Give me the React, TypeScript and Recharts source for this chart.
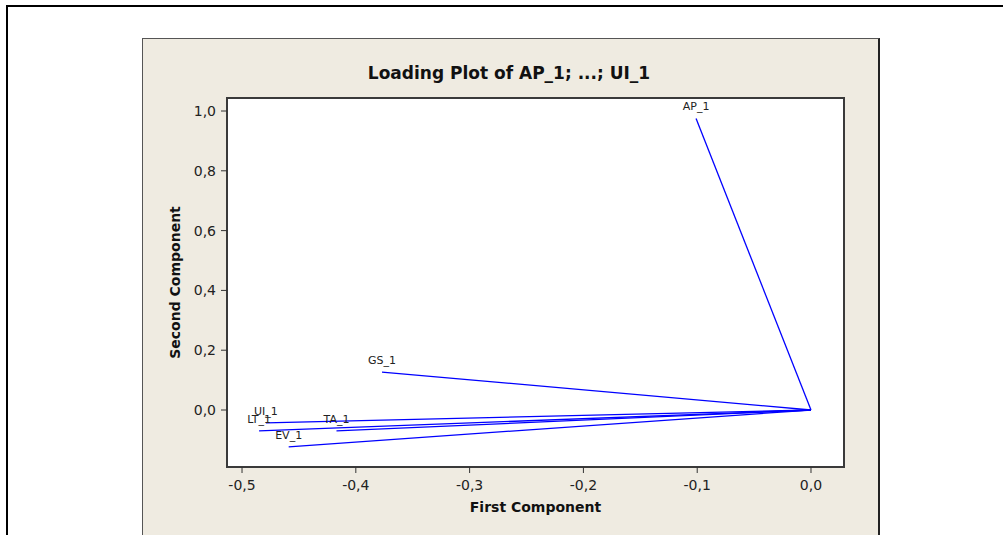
import React from 'react';
import {
  ScatterChart, Scatter, XAxis, YAxis, CartesianGrid, ReferenceArea, Label
} from 'recharts';

// loadings (first component, second component)
const variables = ['AP_1', 'GS_1', 'UI_1', 'LT_1', 'TA_1', 'EV_1'];
const firstComp = [-0.101, -0.377, -0.479, -0.485, -0.417, -0.459];
const secondComp = [0.975, 0.127, -0.043, -0.070, -0.070, -0.123];

const xTicks = [-0.5, -0.4, -0.3, -0.2, -0.1, 0.0];
const yTicks = [0.0, 0.2, 0.4, 0.6, 0.8, 1.0];

const X_DOMAIN = [-0.5132, 0.029];
const Y_DOMAIN = [-0.1906, 1.0435];

const FONT = '"DejaVu Sans", Verdana, sans-serif';
const BLUE = '#0000FF';

const fmt = (v: number) => v.toFixed(1).replace('.', ',');

const series = variables.map((name, i) => [
  { x: 0, y: 0, name: '' },
  { x: firstComp[i], y: secondComp[i], name },
]);

const VarLabel = (props: any) => {
  const { cx, cy, payload } = props;
  if (!payload || !payload.name) return <g />;
  return (
    <text x={cx} y={cy - 8} textAnchor="middle" fontSize={11} fill="#222" fontFamily={FONT}>
      {payload.name}
    </text>
  );
};

export default function App() {
  return (
    <div style={{ position: 'absolute', left: 0, top: 0, width: 1003, height: 535, background: '#fff', overflow: 'hidden' }}>
      {/* outer frame */}
      <div style={{ position: 'absolute', left: 6, top: 5, width: 997, height: 2, background: '#000' }} />
      <div style={{ position: 'absolute', left: 6, top: 5, width: 2, height: 530, background: '#000' }} />
      {/* beige panel */}
      <div style={{
        position: 'absolute', left: 142, top: 38, width: 735, height: 500,
        background: '#EFEBE1', borderLeft: '1px solid #555', borderTop: '1px solid #555', borderRight: '2px solid #222',
      }} />
      <div style={{ position: 'absolute', left: 142, top: 38 }}>
        <ScatterChart
          width={736}
          height={497}
          margin={{ top: 60, right: 34, bottom: 18, left: 25 }}
          style={{ fontFamily: FONT }}
        >
          <CartesianGrid horizontal={false} vertical={false} fill="#fff" />
          <text x={367} y={41} textAnchor="middle" fontSize={17} fontWeight="bold" fill="#111" fontFamily={FONT}>
            Loading Plot of AP_1; ...; UI_1
          </text>
          <XAxis
            type="number"
            dataKey="x"
            domain={X_DOMAIN}
            ticks={xTicks}
            allowDataOverflow
            tickFormatter={fmt}
            axisLine={false}
            tickLine={{ stroke: '#333' }}
            tickSize={6}
            tickMargin={7}
            height={50}
            tick={{ fontSize: 14, fill: '#222', fontFamily: FONT }}
          >
            <Label value="First Component" position="insideBottom" offset={5}
              style={{ fontSize: 14, fontWeight: 'bold', fill: '#111', fontFamily: FONT }} />
          </XAxis>
          <YAxis
            type="number"
            dataKey="y"
            domain={Y_DOMAIN}
            ticks={yTicks}
            allowDataOverflow
            tickFormatter={fmt}
            axisLine={false}
            tickLine={{ stroke: '#333' }}
            tickSize={6}
            tickMargin={5}
            width={60}
            tick={{ fontSize: 14, fill: '#222', fontFamily: FONT }}
          >
            <Label value="Second Component" angle={-90} position="insideLeft" offset={8}
              style={{ fontSize: 14, fontWeight: 'bold', fill: '#111', textAnchor: 'middle', fontFamily: FONT }} />
          </YAxis>
          <ReferenceArea
            x1={X_DOMAIN[0]} x2={X_DOMAIN[1]} y1={Y_DOMAIN[0]} y2={Y_DOMAIN[1]}
            fill="none" fillOpacity={0} stroke="#3a3a3a" strokeWidth={2} ifOverflow="visible"
          />
          {series.map((d, i) => (
            <Scatter
              key={variables[i]}
              data={d}
              line={{ stroke: BLUE, strokeWidth: 1.3 }}
              shape={<VarLabel />}
              isAnimationActive={false}
            />
          ))}
        </ScatterChart>
      </div>
    </div>
  );
}
